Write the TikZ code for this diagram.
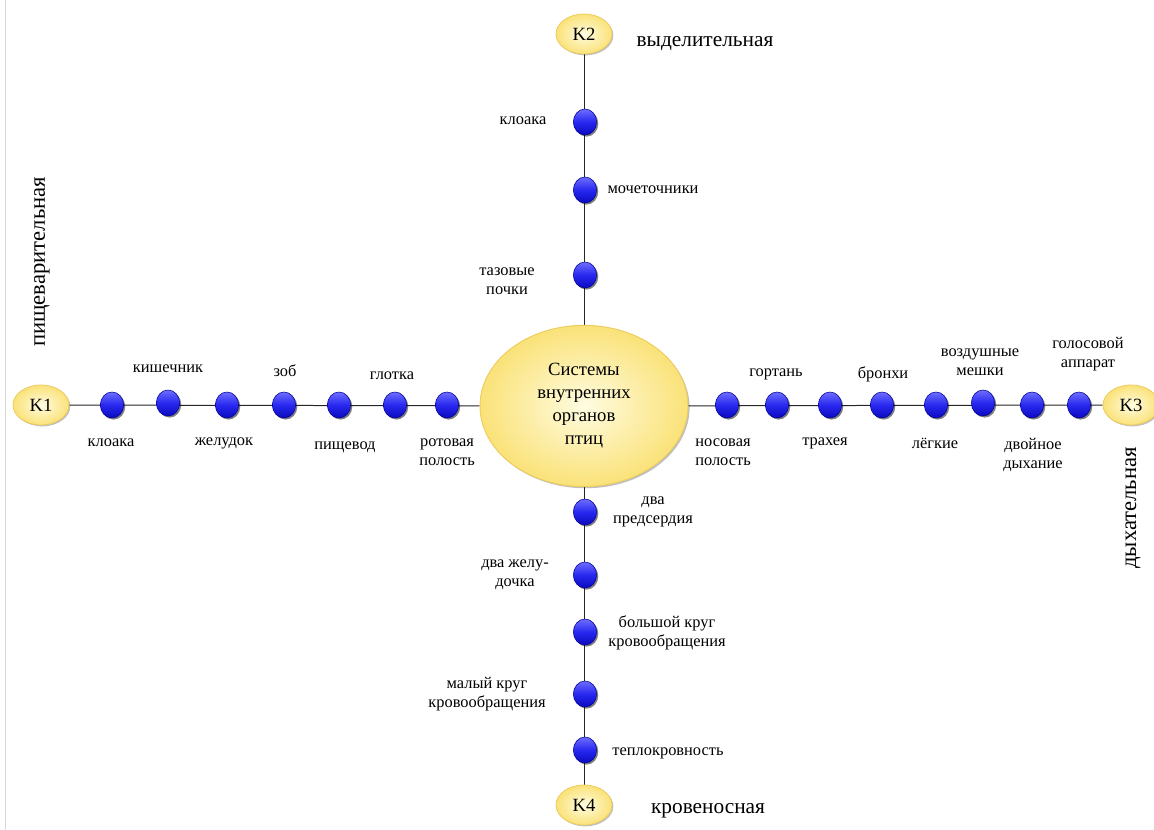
\documentclass[tikz,border=0pt]{standalone}
\usepackage{fontspec}
\setmainfont{Liberation Serif}
\usetikzlibrary{shapes.geometric,shadows,backgrounds}
\definecolor{kin}{RGB}{255,252,225}
\definecolor{kout}{RGB}{250,226,120}
\definecolor{kborder}{RGB}{236,204,96}
\definecolor{dtop}{RGB}{110,110,255}
\definecolor{dmid}{RGB}{40,40,240}
\definecolor{dbot}{RGB}{10,10,190}
\definecolor{dborder}{RGB}{0,0,150}
\begin{document}
\begin{tikzpicture}[x=0.75pt,y=-0.75pt,
  kbox/.style={ellipse, draw=kborder, line width=0.6pt, inner sep=0pt,
    shading=radial, inner color=kin, outer color=kout,
    minimum width=42pt, minimum height=30pt,
    drop shadow={shadow xshift=1pt, shadow yshift=-1pt, opacity=0.25, fill=black},
    font=\fontsize{14}{16}\selectfont},
  centre/.style={ellipse, draw=kborder, line width=0.7pt, inner sep=0pt,
    shading=radial, inner color=kin, outer color=kout,
    minimum width=156pt, minimum height=121pt, align=center,
    drop shadow={shadow xshift=1.2pt, shadow yshift=-1.2pt, opacity=0.25, fill=black},
    font=\fontsize{14}{17.3}\selectfont},
  dot/.style={ellipse, draw=dborder, line width=0.4pt, inner sep=0pt,
    minimum width=17.5pt, minimum height=19.5pt,
    top color=dtop, bottom color=dbot, middle color=dmid,
    drop shadow={shadow xshift=1.2pt, shadow yshift=-1.2pt, opacity=0.5, fill=black}},
  lbl/.style={align=center, inner sep=1pt, font=\fontsize{12.3}{14.4}\selectfont},
  big/.style={inner sep=1pt, font=\fontsize{16}{19}\selectfont},
  bigv/.style={inner sep=1pt, rotate=90, font=\fontsize{17}{20}\selectfont},
  conn/.style={draw=black!85, line width=0.75pt}
]
\useasboundingbox (0,0) rectangle (1154,830);
\draw[gray!30, line width=0.5pt] (5,0) -- (5,830);

% main nodes
\node[centre] (C) at (584,406) {Системы\\внутренних\\органов\\птиц};
\node[kbox] (K1) at (41,405) {K1};
\node[kbox] (K2) at (584,34) {K2};
\node[kbox] (K3) at (1131,405) {K3};
\node[kbox] (K4) at (584,805) {K4};

% left branch dots
\node[dot] (a1) at (112,405) {};
\node[dot] (a2) at (168,403) {};
\node[dot] (a3) at (227,405) {};
\node[dot] (a4) at (284,405) {};
\node[dot] (a5) at (339,405) {};
\node[dot] (a6) at (395,405) {};
\node[dot] (a7) at (447,405) {};
% right branch dots
\node[dot] (b1) at (727,405) {};
\node[dot] (b2) at (777,405) {};
\node[dot] (b3) at (830,405) {};
\node[dot] (b4) at (882,405) {};
\node[dot] (b5) at (936,405) {};
\node[dot] (b6) at (983,403) {};
\node[dot] (b7) at (1032,405) {};
\node[dot] (b8) at (1079,405) {};
% top branch dots
\node[dot] (c1) at (585,122) {};
\node[dot] (c2) at (585,190) {};
\node[dot] (c3) at (585,275) {};
% bottom branch dots
\node[dot] (d1) at (585,512) {};
\node[dot] (d2) at (585,575) {};
\node[dot] (d3) at (585,632) {};
\node[dot] (d4) at (585,694) {};
\node[dot] (d5) at (585,750) {};

\begin{scope}[on background layer]
  \draw[conn] (K1) -- (C);
  \draw[conn] (C) -- (K3);
  \draw[conn] (K2) -- (C);
  \draw[conn] (C) -- (K4);
\end{scope}

% left labels
\node[lbl] (la2) at (168,369) {кишечник};
\node[lbl] (la4) at (285,371) {зоб};
\node[lbl] (la6) at (392,376) {глотка};
\node[lbl] (la1) at (111,443) {клоака};
\node[lbl] (la3) at (224,443) {желудок};
\node[lbl] (la5) at (345,447) {пищевод};
\node[lbl] (la7) at (447,452) {ротовая\\полость};
% right labels
\node[lbl] (lb2) at (776,374) {гортань};
\node[lbl] (lb4) at (883,374) {бронхи};
\node[lbl] (lb6) at (980,362) {воздушные\\мешки};
\node[lbl] (lb8) at (1088,354) {голосовой\\аппарат};
\node[lbl] (lb1) at (723,452) {носовая\\полость};
\node[lbl] (lb3) at (825,443) {трахея};
\node[lbl] (lb5) at (935,443) {лёгкие};
\node[lbl] (lb7) at (1033,455) {двойное\\дыхание};
% top labels
\node[lbl] (lc1) at (523,121) {клоака};
\node[lbl] (lc2) at (653,190) {мочеточники};
\node[lbl] (lc3) at (507,281) {тазовые\\почки};
% bottom labels
\node[lbl] (ld1) at (653,512) {два\\предсердия};
\node[lbl] (ld2) at (515,575) {два желу-\\дочка};
\node[lbl] (ld3) at (667,633) {большой круг\\кровообращения};
\node[lbl] (ld4) at (487,694) {малый круг\\кровообращения};
\node[lbl] (ld5) at (668,753) {теплокровность};

% system names
\node[big] (n2) at (705,44) {выделительная};
\node[big] (n4) at (708,811) {кровеносная};
\node[bigv] (n1) at (42,262) {пищеварительная};
\node[bigv] (n3) at (1133,508) {дыхательная};
\end{tikzpicture}
\end{document}
